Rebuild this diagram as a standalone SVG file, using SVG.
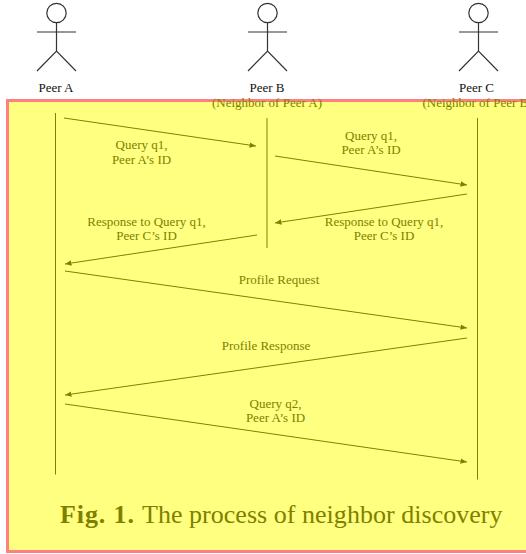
<svg xmlns="http://www.w3.org/2000/svg" width="526" height="554" viewBox="0 0 526 554">
<defs>
<marker id="ah" markerUnits="userSpaceOnUse" markerWidth="7" markerHeight="6" refX="6.500" refY="3" orient="auto"><path d="M0 .3L6.500 3L0 5.700Z" fill="#808000"/></marker>
</defs>
<style>
text{font-family:"Liberation Serif",serif;font-size:13px;text-anchor:middle}
.k{fill:#111}
.o{fill:#808000}
.s{fill:none;stroke:#333;stroke-width:1.2}
.l{fill:none;stroke:#808000;stroke-width:1}
.c{stroke:#808000;stroke-width:1;fill:none;marker-end:url(#ah)}
</style>
<rect id="highlight" x="7.500" y="100.500" width="530" height="451" fill="#ffff80" stroke="#ff8080" stroke-width="3"/>
<g id="peer-a">
<circle class="s" cx="56.500" cy="13" r="9.700"/><path class="s" d="M56.500 23V51M37 32H76M37 71L56.500 51L76 71"/>
<text class="k" x="56" y="92">Peer A</text>
</g>
<g id="peer-b">
<circle class="s" cx="267.500" cy="13" r="9.700"/><path class="s" d="M267.500 23V51M248 32H287M248 71L267.500 51L287 71"/>
<text class="k" x="267" y="92">Peer B</text>
<text class="o" x="267" y="107">(Neighbor of Peer A)</text>
</g>
<g id="peer-c">
<circle class="s" cx="478.500" cy="13" r="9.700"/><path class="s" d="M478.500 23V51M459 32H498M459 71L478.500 51L498 71"/>
<text class="k" x="476.500" y="92">Peer C</text>
<text class="o" x="477.500" y="107">(Neighbor of Peer B)</text>
</g>
<g id="lifelines">
<path class="l" d="M55.500 113V474.500M267 118V248M477.500 118V479.500"/>
</g>
<g id="connectors">
<path class="c" d="M64 118L256 146"/>
<path class="c" d="M275 156L467 185"/>
<path class="c" d="M467 194L275 223"/>
<path class="c" d="M257 235L65 264"/>
<path class="c" d="M65 271L467 328"/>
<path class="c" d="M467 338L65 395"/>
<path class="c" d="M65 404L467 462"/>
</g>
<g id="labels">
<text class="o" x="141.500" y="148.500">Query q1,</text><text class="o" x="141.500" y="163.500">Peer A’s ID</text>
<text class="o" x="371" y="139.500">Query q1,</text><text class="o" x="371" y="154">Peer A’s ID</text>
<text class="o" x="146.500" y="225.500">Response to Query q1,</text><text class="o" x="146.500" y="240">Peer C’s ID</text>
<text class="o" x="384" y="225.500">Response to Query q1,</text><text class="o" x="384" y="240">Peer C’s ID</text>
<text class="o" x="279" y="283.500">Profile Request</text>
<text class="o" x="266" y="350">Profile Response</text>
<text class="o" x="275.500" y="408">Query q2,</text><text class="o" x="275.500" y="422">Peer A’s ID</text>
</g>
<text id="caption" class="o" y="523" style="text-anchor:start;font-size:26px"><tspan x="60" font-weight="bold" letter-spacing=".9">Fig. 1.</tspan><tspan x="142" letter-spacing=".03">The process of neighbor discovery</tspan></text>
</svg>
